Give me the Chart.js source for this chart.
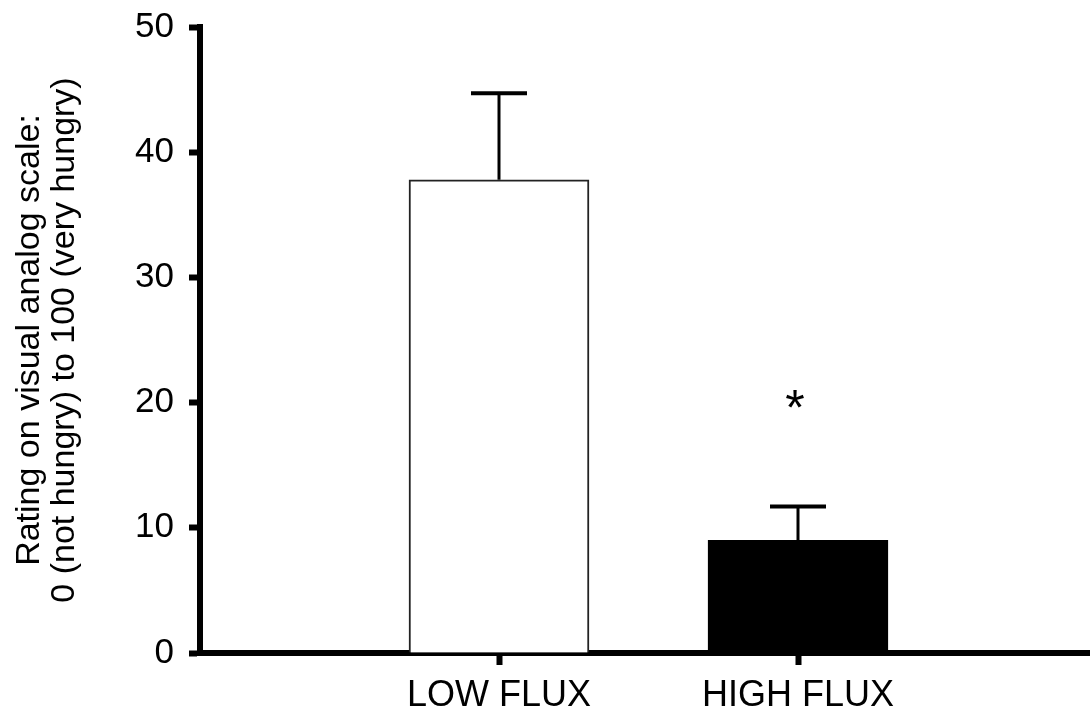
<!DOCTYPE html>
<html><head><meta charset="utf-8">
<script src="https://cdn.jsdelivr.net/npm/chart.js@4/dist/chart.umd.min.js"></script>
<style>
html,body{margin:0;padding:0;background:#fff;overflow:hidden;width:1090px;height:715px}
#wrap{width:1100px;height:715px;position:relative}
</style></head><body><div id="wrap"><canvas id="c" width="1100" height="715"></canvas></div>
<script>
const categories = ['LOW FLUX', 'HIGH FLUX'];
const means = [37.8, 9.0];
const errors = [6.9, 2.7];
const sigMarks = ['', '*'];
const sigLevels = [null, 20];
const yTicks = [0, 10, 20, 30, 40, 50];
const yTitle = ['Rating on visual analog scale:', '0 (not hungry) to 100 (very hungry)'];

const FAM = '"Liberation Sans", Arial, sans-serif';

const overlay = {
  id: 'overlay',
  afterDatasetsDraw(chart) {
    const {ctx, scales: {x, y}} = chart;
    ctx.save();
    ctx.strokeStyle = '#000';
    ctx.lineCap = 'butt';
    means.forEach((m, i) => {
      const px = x.getPixelForValue(i + 1);
      const yb = y.getPixelForValue(m);
      const yt = y.getPixelForValue(m + errors[i]);
      ctx.lineWidth = 3;
      ctx.beginPath(); ctx.moveTo(px, yb); ctx.lineTo(px, yt); ctx.stroke();
      ctx.lineWidth = 4;
      ctx.beginPath(); ctx.moveTo(px - 28, yt); ctx.lineTo(px + 28, yt); ctx.stroke();
    });
    ctx.fillStyle = '#000';
    ctx.font = '50px ' + FAM;
    ctx.textAlign = 'center';
    ctx.textBaseline = 'middle';
    sigMarks.forEach((s, i) => {
      if (!s) return;
      ctx.fillText(s, x.getPixelForValue(i + 1) - 3, y.getPixelForValue(sigLevels[i]) + 9);
    });
    ctx.restore();
  }
};

new Chart(document.getElementById('c'), {
  type: 'bar',
  data: {
    datasets: [{
      data: means.map((m, i) => ({x: i + 1, y: m})),
      backgroundColor: ['#ffffff', '#000000'],
      borderColor: ['#222222', '#000000'],
      borderWidth: 2,
      barThickness: 180
    }]
  },
  options: {
    responsive: false,
    animation: false,
    layout: {padding: {top: 27, right: 3, left: 0, bottom: 0}},
    plugins: {legend: {display: false}, tooltip: {enabled: false}},
    scales: {
      x: {
        type: 'linear', min: 0, max: 3, z: 1, offset: false,
        afterBuildTicks: s => { s.ticks = categories.map((c, i) => ({value: i + 1})); },
        ticks: {
          callback: v => categories[v - 1] ?? '',
          color: '#000', font: {family: FAM, size: 36}, padding: 9,
          maxRotation: 0, autoSkip: false
        },
        grid: {offset: false, drawOnChartArea: false, drawTicks: true, tickLength: 12, tickWidth: 6, tickColor: '#000'},
        border: {display: true, color: '#000', width: 6},
        afterFit: s => { s.height = 62; }
      },
      y: {
        min: 0, max: 50, z: 1,
        afterBuildTicks: s => { s.ticks = yTicks.map(v => ({value: v})); },
        ticks: {color: '#000', font: {family: FAM, size: 35, lineHeight: 0.5}, padding: 15},
        grid: {drawOnChartArea: false, drawTicks: true, tickLength: 11, tickWidth: 6, tickColor: '#000'},
        border: {display: true, color: '#000', width: 6},
        title: {
          display: true, text: yTitle, color: '#000',
          font: {family: FAM, size: 34, lineHeight: 1.03},
          padding: {top: 12, bottom: 0}
        },
        afterFit: s => { s.width = 200; }
      }
    }
  },
  plugins: [overlay]
});
</script></body></html>
